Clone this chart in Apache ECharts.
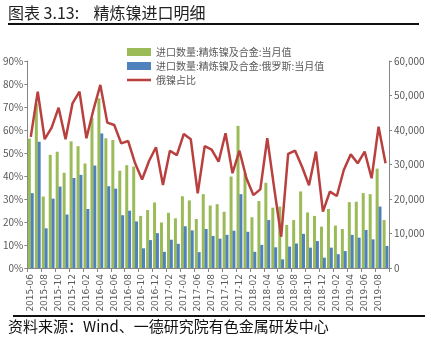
<!DOCTYPE html>
<html><head><meta charset="utf-8">
<script src="https://cdn.jsdelivr.net/npm/echarts@6/dist/echarts.min.js"></script>
<style>html,body{margin:0;padding:0;background:#fff}#c{width:434px;height:343px}</style>
</head><body><div id="c"></div>
<script>
const months = ["2015-06","2015-07","2015-08","2015-09","2015-10","2015-11","2015-12","2016-01","2016-02","2016-03","2016-04","2016-05","2016-06","2016-07","2016-08","2016-09","2016-10","2016-11","2016-12","2017-01","2017-02","2017-03","2017-04","2017-05","2017-06","2017-07","2017-08","2017-09","2017-10","2017-11","2017-12","2018-01","2018-02","2018-03","2018-04","2018-05","2018-06","2018-07","2018-08","2018-09","2018-10","2018-11","2018-12","2019-01","2019-02","2019-03","2019-04","2019-05","2019-06","2019-07","2019-08","2019-09"];
const totalImports = [37500,47700,20700,32800,33700,27600,36700,35300,30300,43500,49200,37600,37100,28200,29800,29400,15100,16800,19000,13200,16000,14400,20800,19600,14200,21400,18100,18500,16300,26500,41200,27500,14700,19400,24700,17500,17800,12500,13900,22200,16100,15100,12000,17100,12300,11300,19100,19200,21700,21400,28800,13900];
const russiaImports = [21700,36600,11500,20100,23600,15500,26100,27000,17100,29700,39000,23700,23000,15300,16600,13500,5700,8100,10100,4700,8200,7000,12100,10900,4600,11300,9300,8500,9600,10800,21400,10500,4700,6700,13900,6000,2500,6200,7100,9900,5900,7800,3000,5900,4000,4900,9600,8800,11000,8300,17800,6400];
const russiaShare = [57,76.7,56,61,69.7,56,71.6,76.7,56.4,68.7,79.6,63.2,62.2,54.2,55.2,45.5,38.5,46.5,52.5,36.1,51,49.1,58.3,56,32.5,53,51.5,46.2,58.6,41.2,51,39,31.7,34.2,56.4,34.6,13.6,49.6,51,44,36,50.6,24.5,33.2,31.3,42.6,49.4,45.5,50.6,39,61.4,45.5];
const legendNames = ["进口数量:精炼镍及合金:当月值","进口数量:精炼镍及合金:俄罗斯:当月值","俄镍占比"];

const chart = echarts.init(document.getElementById('c'), null, {renderer:'canvas'});
const axisColor = '#868686', labelColor = '#595959', red = '#B8413F';
const lineIcon = 'path://M0,0L0.01,0L0.01,0.01Z M0,2.8L24,2.8L24,5.2L0,5.2Z M0,8L0.01,8L0.01,7.99Z';
chart.setOption({
  animation:false,
  textStyle:{fontFamily:'"Noto Sans CJK SC", "Noto Sans", sans-serif'},
  grid:{left:27,right:45,top:61,bottom:75,containLabel:false},
  legend:{
    left:122, top:42, orient:'vertical', itemGap:4, itemWidth:24, itemHeight:8,
    textStyle:{fontSize:10,color:labelColor,fontFamily:'"Noto Sans CJK SC", sans-serif'},
    data:[{name:legendNames[0],icon:'rect'},{name:legendNames[1],icon:'rect'},{name:legendNames[2],icon:lineIcon,itemStyle:{color:red}}]
  },
  xAxis:{
    type:'category', data:months, boundaryGap:true,
    axisLine:{lineStyle:{color:axisColor,width:1}},
    axisTick:{show:true,interval:1,length:4,lineStyle:{color:axisColor}},
    axisLabel:{interval:1,rotate:90,fontSize:9,color:labelColor,margin:6,fontFamily:'"DejaVu Sans", sans-serif'}
  },
  yAxis:[
    {type:'value',min:0,max:90,interval:10,position:'left',
     axisLine:{show:true,lineStyle:{color:axisColor}},
     axisTick:{show:true,length:3,lineStyle:{color:axisColor}},
     splitLine:{show:false},
     axisLabel:{formatter:'{value}%',fontSize:10,color:labelColor,margin:4}},
    {type:'value',min:0,max:60000,interval:10000,position:'right',
     axisLine:{show:true,lineStyle:{color:axisColor}},
     axisTick:{show:true,length:3,lineStyle:{color:axisColor}},
     splitLine:{show:false},
     axisLabel:{fontSize:10,color:labelColor,margin:5}}
  ],
  series:[
    {name:legendNames[0],type:'bar',yAxisIndex:1,data:totalImports,barWidth:3,barGap:'-5%',itemStyle:{color:'#9BBB59'}},
    {name:legendNames[1],type:'bar',yAxisIndex:1,data:russiaImports,barWidth:3,itemStyle:{color:'#4F81BD'}},
    {name:legendNames[2],type:'line',yAxisIndex:0,data:russiaShare,symbol:'none',lineStyle:{color:red,width:2.5},itemStyle:{color:red}}
  ],
  graphic:[
    {type:'text',left:8,top:5,style:{text:'图表 3.13:    精炼镍进口明细',fontSize:16,fill:'#222',fontFamily:'"Noto Sans CJK SC", sans-serif'}},
    {type:'rect',shape:{x:8,y:23,width:411,height:2},style:{fill:'#111'}},
    {type:'rect',shape:{x:13,y:315,width:412,height:2},style:{fill:'#111'}},
    {type:'text',left:8,top:319,style:{text:'资料来源：Wind、一德研究院有色金属研发中心',fontSize:15,fill:'#111',fontFamily:'"Noto Sans CJK SC", sans-serif'}}
  ]
});
</script></body></html>
